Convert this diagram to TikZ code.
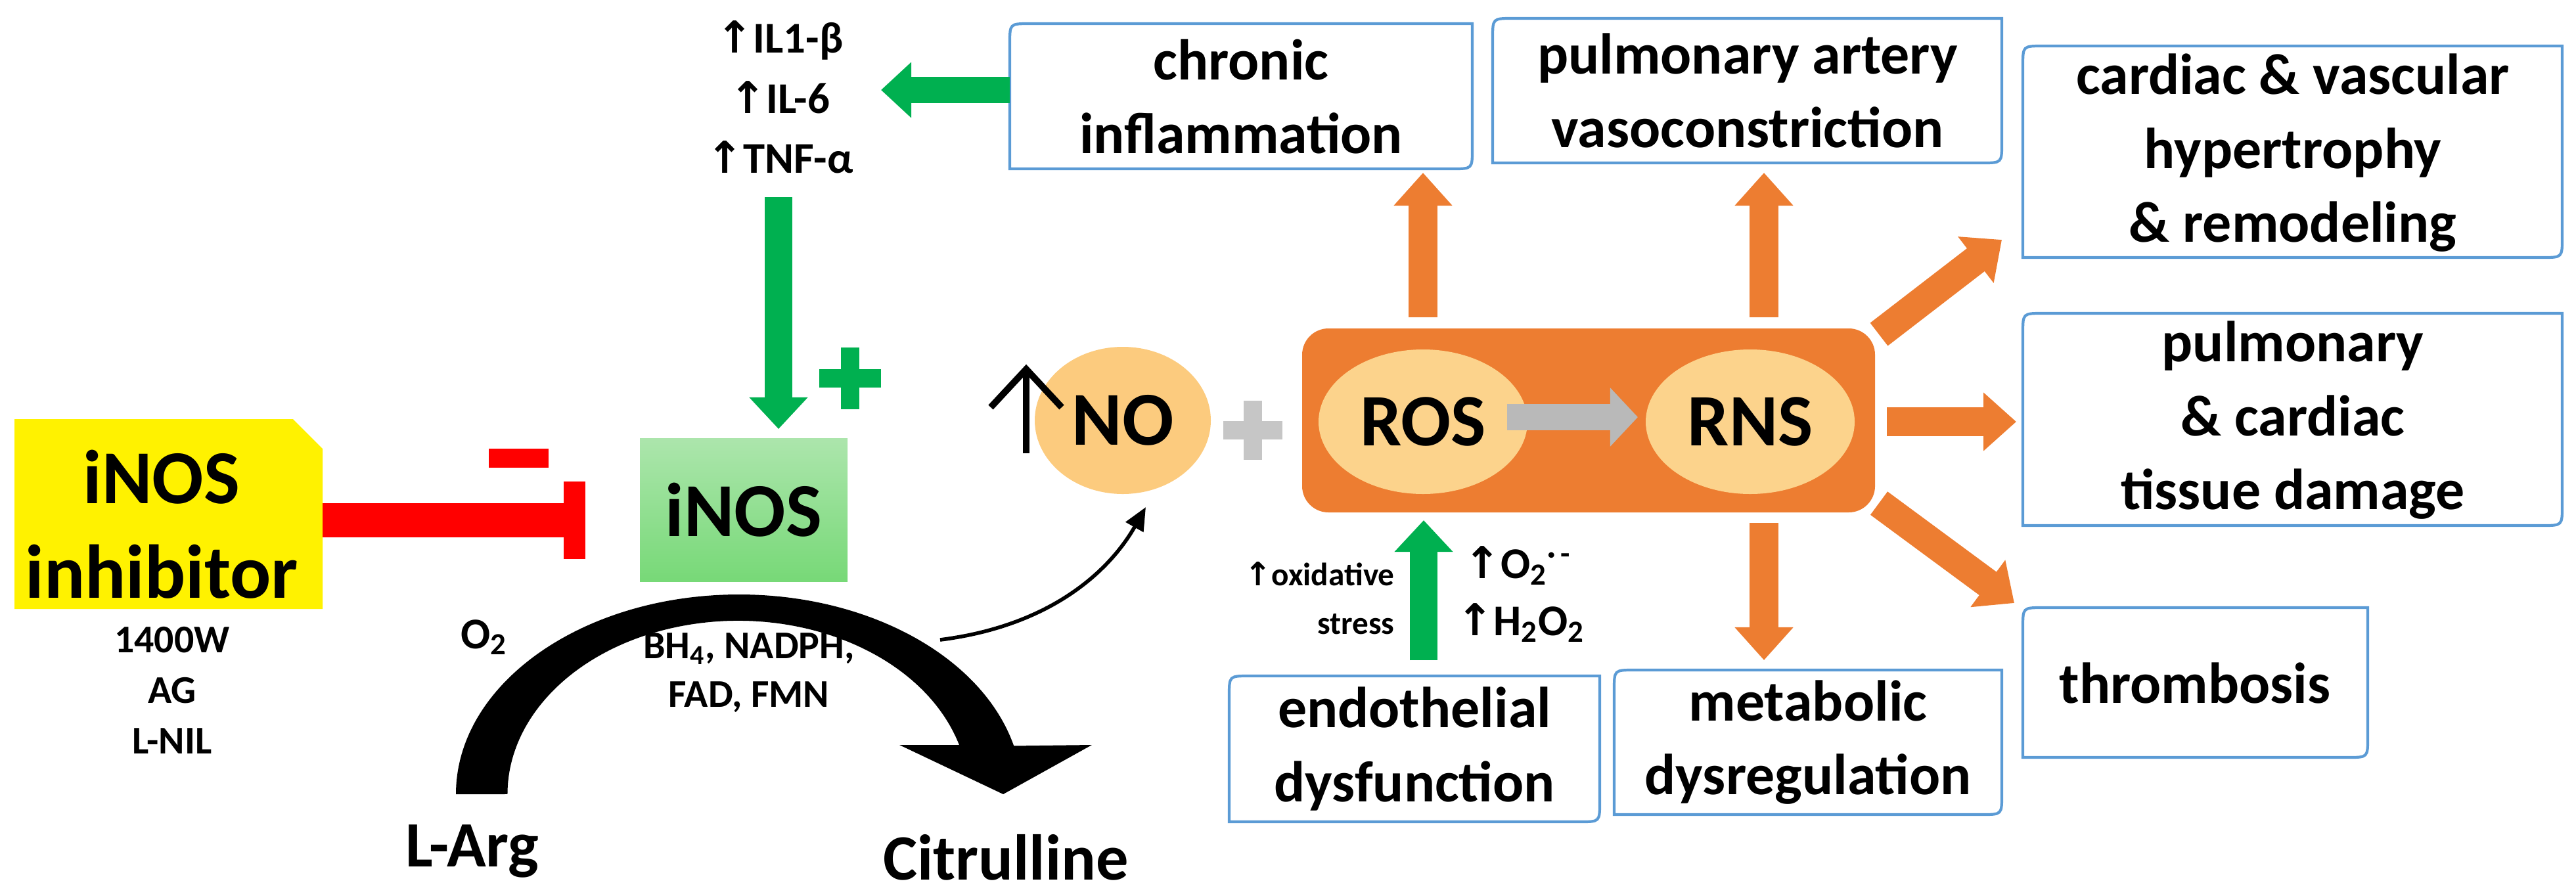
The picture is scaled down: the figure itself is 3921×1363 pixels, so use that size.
\documentclass[tikz,border=0pt]{standalone}
\usepackage{fontspec}
\setmainfont{Carlito}
\newfontfamily\arr{DejaVu Sans}
\usetikzlibrary{arrows.meta}
\definecolor{orng}{HTML}{ED7D31}
\definecolor{grn}{HTML}{00B050}
\definecolor{bluebox}{HTML}{5B9BD5}
\definecolor{pale}{HTML}{FCD38C}
\newcommand{\fs}[2]{\fontsize{#1}{#2}\selectfont\bfseries}
\newcommand{\rdbox}[4]{\draw[boxline] (#1,#2+30) .. controls (#1,#2) .. (#1+30,#2) -- (#3,#2) -- (#3,#4-30) .. controls (#3,#4) .. (#3-30,#4) -- (#1,#4) -- cycle;}
\newcommand{\up}{{\arr\char"2191}}
\begin{document}
\begin{tikzpicture}[x=0.01cm,y=-0.01cm,
  boxline/.style={draw=bluebox,line width=1.2pt},
  btxt/.style={align=center,font=\fs{25}{32}},
  oarr/.style={draw=orng,line width=0.44cm,-{Triangle[length=0.5cm,width=0.86cm]}},
  garr/.style={draw=grn,line width=0.42cm,-{Triangle[length=0.48cm,width=0.86cm]}},
  pale/.style={fill=pale,draw=none}]
\useasboundingbox (0,0) rectangle (3921,1363);
% inhibitor
\fill[yellow] (22,638) -- (446,638) -- (491,683) -- (491,927) -- (22,927) -- cycle;
\node[align=center,font=\fs{33}{41}] (inh) at (246,798) {iNOS\\inhibitor};
\node[align=center,font=\fs{17}{22}] (drugs) at (262,1051) {1400W\\AG\\L-NIL};
% iNOS
\shade[top color=green!25!white!90!black, bottom color=green!45!white!85!black] (974,667) rectangle (1290,885);
\node[font=\fs{33}{40}] (inos) at (1132,776) {iNOS};
\coordinate (inosT) at (1185,667);
% inhibition
\draw[red,line width=0.52cm] (491,792) -- (860,792);
\fill[red] (858,733) rectangle (891,851);
\fill[red] (744,683) rectangle (835,712);
% cytokines
\node[align=center,font=\fs{19}{26}] (il) at (1187,148) {\up IL1-β\\\up IL-6\\\up TNF-α};
\coordinate (ilB) at (1185,300);
\draw[garr] (ilB) -- (inosT |- 0,653);
\fill[grn] (1247,562) rectangle (1341,590);
\fill[grn] (1280,529) rectangle (1308,623);
% boxes
\rdbox{1537}{36}{2241}{257}
\node[btxt] (chr) at (1889,147) {chronic\\inflammation};
\rdbox{2272}{28}{3047}{248}
\node[btxt] (pav) at (2660,138) {pulmonary artery\\vasoconstriction};
\rdbox{3079}{70}{3900}{392}
\node[btxt] (hyp) at (3490,233) {cardiac \& vascular\\hypertrophy\\\& remodeling};
\rdbox{3079}{477}{3900}{800}
\node[btxt] (dmg) at (3490,640) {pulmonary\\\& cardiac\\tissue damage};
\rdbox{3079}{925}{3604}{1153}
\node[btxt] (thr) at (3341,1040) {thrombosis};
\rdbox{2457}{1020}{3047}{1240}
\node[btxt] (met) at (2752,1130) {metabolic\\dysregulation};
\rdbox{1871}{1029}{2435}{1251}
\node[btxt] (endo) at (2153,1140) {endothelial\\dysfunction};
% chronic -> cytokines
\draw[grn,line width=0.40cm,-{Triangle[length=0.46cm,width=0.82cm]}] (1537,137) -- (1341,137);
% NO
\fill[pale!90!orange] (1709,640) ellipse (134 and 112);
\node[font=\fs{33}{40}] (no) at (1709,640) {NO};
\draw[line width=0.1cm] (1562,690) -- (1562,562);
\draw[line width=0.1cm,line join=miter] (1508,620) -- (1562,562) -- (1616,620);
% gray plus
\fill[gray!45] (1862,641) rectangle (1952,669);
\fill[gray!45] (1893,610) rectangle (1921,700);
% orange box
\fill[orng,rounded corners=0.4cm] (1982,500) rectangle (2854,780);
\fill[pale] (2166,642) ellipse (159 and 110);
\fill[pale] (2664,642) ellipse (159 and 110);
\node[font=\fs{32}{40}] (ros) at (2166,642) {ROS};
\node[font=\fs{32}{40}] (rns) at (2664,642) {RNS};
\draw[gray!55,line width=0.40cm,-{Triangle[length=0.42cm,width=0.87cm]}] (ros.east) ++(20,-7) -- ([xshift=-18]rns.west |- 0,635);
% orange arrows
\draw[oarr] (2166,483) -- (2166,263);
\draw[oarr] (2685,483) -- (2685,263);
\draw[oarr] (2685,796) -- (2685,1005);
\draw[oarr] (2872,642) -- (3069,642);
\draw[oarr] (2860,509) -- (3047,365);
\draw[oarr] (2860,766) -- (3066,918);
% oxidative stress
\draw[garr] (2167,1005) -- (2167,792);
\node[align=right,anchor=east,font=\fs{14}{21}] (ox) at (2135,911) {\up oxidative\\stress};
\node[anchor=west,font=\fs{19}{24}] (o2m) at (2216,861) {\up O\textsubscript{2}\textsuperscript{·\,-}};
\node[anchor=west,font=\fs{19}{24}] (h2o2) at (2205,948) {\up H\textsubscript{2}O\textsubscript{2}};
% arc
\fill (694,1209) arc[start angle=180,end angle=346,x radius=431,y radius=304]
  -- (1662,1134) -- (1527,1209) -- (1369,1134) -- (1460,1134)
  arc[start angle=343.5,end angle=180,x radius=351,y radius=264] -- cycle;
\coordinate (arcR) at (1431,974);
\draw[line width=1.6pt,-{Triangle[length=0.35cm,width=0.3cm]}] (arcR) .. controls (1620,950) and (1700,850) .. (1744,772);
\node[font=\fs{19}{24}] (o2) at (737,970) {O\textsubscript{2}};
\node[align=center,font=\fs{17}{21}] (cof) at (1140,1024) {BH\textsubscript{4}, NADPH,\\FAD, FMN};
\node[font=\fs{28}{34}] (larg) at (719,1296) {L-Arg};
\node[font=\fs{28}{34}] (cit) at (1531,1305) {Citrulline};
\end{tikzpicture}
\end{document}
